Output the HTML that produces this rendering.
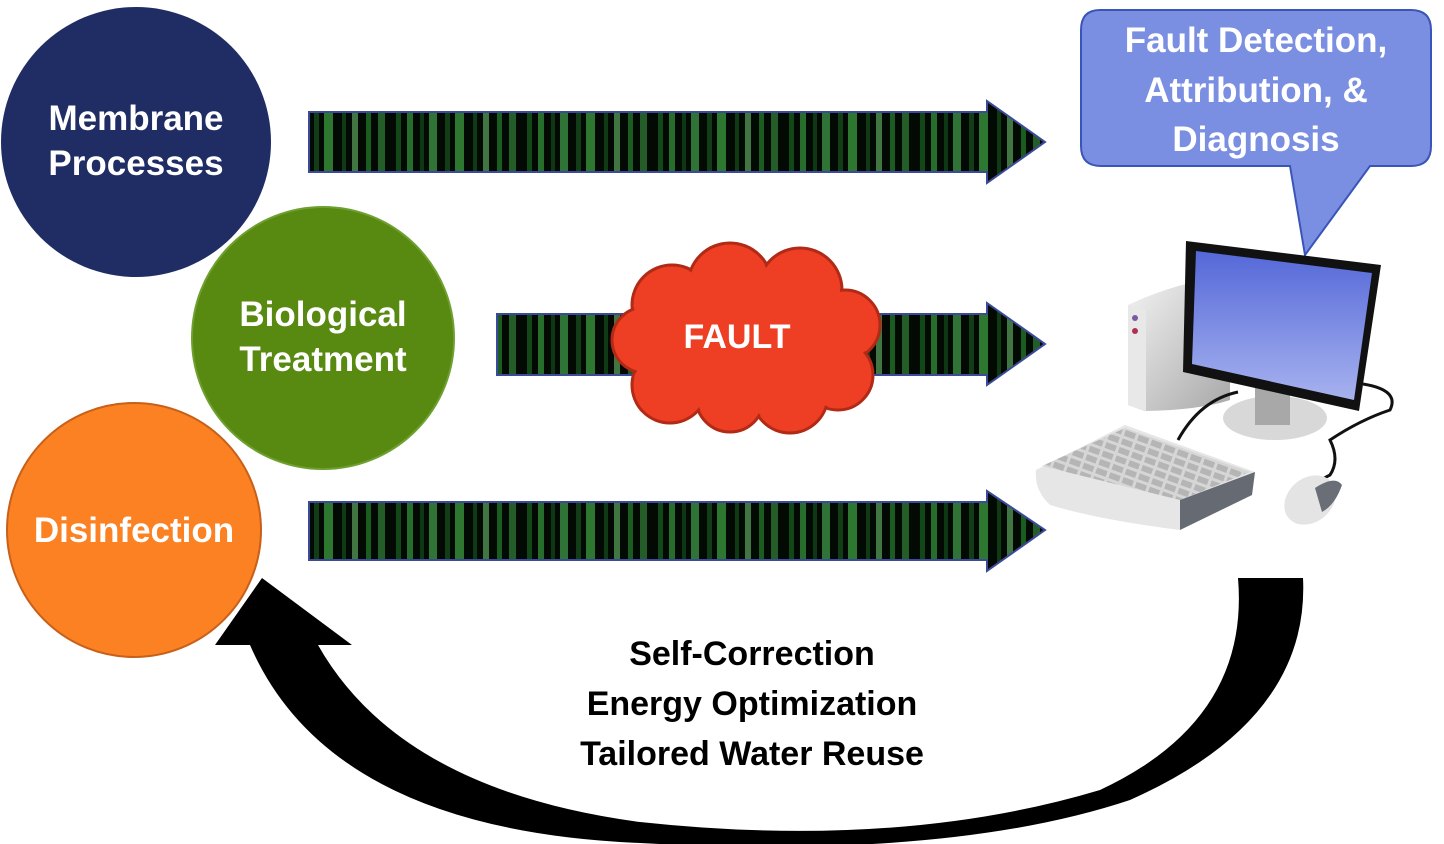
<!DOCTYPE html>
<html><head><meta charset="utf-8"><style>
html,body{margin:0;padding:0;background:#fff;}
svg{display:block;}
text{font-family:"Liberation Sans","DejaVu Sans",sans-serif;font-weight:bold;}
</style></head><body>
<svg width="1444" height="844" viewBox="0 0 1444 844" xmlns="http://www.w3.org/2000/svg">
<defs>
<pattern id="mx" width="131" height="70" patternUnits="userSpaceOnUse">
<rect width="131" height="70" fill="#030a03"/>
<rect x="3" y="0" width="5" height="70" fill="#1f7a2a" opacity=".55"/>
<rect x="14" y="0" width="6" height="70" fill="#3fb04a" opacity=".6"/>
<rect x="27" y="0" width="4" height="70" fill="#1f7a2a" opacity=".4"/>
<rect x="36" y="0" width="8" height="70" fill="#55c860" opacity=".55"/>
<rect x="52" y="0" width="5" height="70" fill="#2d9a38" opacity=".35"/>
<rect x="62" y="0" width="9" height="70" fill="#49c050" opacity=".6"/>
<rect x="80" y="0" width="4" height="70" fill="#1d6a25" opacity=".5"/>
<rect x="90" y="0" width="6" height="70" fill="#7fe080" opacity=".5"/>
<rect x="104" y="0" width="5" height="70" fill="#2f9e3a" opacity=".55"/>
<rect x="116" y="0" width="7" height="70" fill="#4cc455" opacity=".45"/>
</pattern>
<linearGradient id="scr" x1="0" y1="0" x2="0" y2="1"><stop offset="0" stop-color="#5468d8"/><stop offset="1" stop-color="#a7b2ef"/></linearGradient>
<linearGradient id="gry" x1="0" y1="0" x2="1" y2="1"><stop offset="0" stop-color="#f2f2f2"/><stop offset="1" stop-color="#a8a8a8"/></linearGradient>
<pattern id="keys" width="14" height="9" patternUnits="userSpaceOnUse" patternTransform="rotate(20)">
<rect width="14" height="9" fill="#d6d6d6"/><rect x="1" y="1" width="11" height="6" fill="#b5b5b5"/>
</pattern>
</defs>

<!-- arrows -->
<path d="M309,112 H987 V101 L1045,142 L987,183 V172 H309 Z" fill="url(#mx)" stroke="#3b4a9a" stroke-width="2"/>
<path d="M497,314 H987 V303 L1045,344 L987,385 V375 H497 Z" fill="url(#mx)" stroke="#3b4a9a" stroke-width="2"/>
<path d="M309,502 H987 V491 L1045,530 L987,571 V560 H309 Z" fill="url(#mx)" stroke="#3b4a9a" stroke-width="2"/>

<!-- cloud -->
<g fill="#ee3e23" stroke="#b02a16" stroke-width="3">
<circle cx="672" cy="305" r="40"/><circle cx="730" cy="285" r="42"/><circle cx="800" cy="290" r="42"/>
<circle cx="845" cy="325" r="35"/><circle cx="838" cy="375" r="35"/><circle cx="790" cy="395" r="38"/>
<circle cx="730" cy="398" r="34"/><circle cx="670" cy="385" r="38"/><circle cx="645" cy="340" r="33"/>
</g>
<g fill="#ee3e23">
<circle cx="672" cy="305" r="38"/><circle cx="730" cy="285" r="40"/><circle cx="800" cy="290" r="40"/>
<circle cx="845" cy="325" r="33"/><circle cx="838" cy="375" r="33"/><circle cx="790" cy="395" r="36"/>
<circle cx="730" cy="398" r="32"/><circle cx="670" cy="385" r="36"/><circle cx="645" cy="340" r="31"/>
<ellipse cx="745" cy="340" rx="110" ry="65"/>
</g>
<text x="737" y="348" font-size="34" fill="#fff" text-anchor="middle">FAULT</text>

<!-- circles -->
<circle cx="136" cy="142" r="135" fill="#1f2d64"/>
<text x="136" y="130" font-size="35" fill="#fff" text-anchor="middle">Membrane</text>
<text x="136" y="175" font-size="35" fill="#fff" text-anchor="middle">Processes</text>
<circle cx="323" cy="338" r="131" fill="#588a12" stroke="#6ea030" stroke-width="2"/>
<text x="323" y="326" font-size="35" fill="#fff" text-anchor="middle">Biological</text>
<text x="323" y="371" font-size="35" fill="#fff" text-anchor="middle">Treatment</text>
<circle cx="134" cy="530" r="127" fill="#fb8122" stroke="#c8601a" stroke-width="2"/>
<text x="134" y="542" font-size="35" fill="#fff" text-anchor="middle">Disinfection</text>

<!-- callout -->
<path d="M1100,10 H1411 Q1431,10 1431,30 V146 Q1431,166 1411,166 H1370 L1305,255 L1290,166 H1101 Q1081,166 1081,146 V30 Q1081,10 1100,10 Z" fill="#7b8fe2" stroke="#3a55b8" stroke-width="2"/>
<text x="1256" y="52" font-size="35" fill="#fff" text-anchor="middle">Fault Detection,</text>
<text x="1256" y="102" font-size="35" fill="#fff" text-anchor="middle">Attribution, &amp;</text>
<text x="1256" y="151" font-size="35" fill="#fff" text-anchor="middle">Diagnosis</text>

<!-- computer -->
<path d="M1128,305 Q1160,290 1190,283 L1230,290 V400 Q1200,410 1145,411 L1128,405 Z" fill="url(#gry)"/>
<path d="M1128,305 L1146,310 V411 L1128,405 Z" fill="#e8e8e8"/>
<circle cx="1135" cy="318" r="3" fill="#7a5aa0"/><circle cx="1135" cy="331" r="3" fill="#b03050"/>
<ellipse cx="1275" cy="418" rx="52" ry="22" fill="#d8d8d8"/>
<rect x="1255" y="385" width="35" height="40" fill="#a8a8a8"/>
<path d="M1186,241 L1381,265 L1359,411 L1183,372 Z" fill="#111"/>
<path d="M1196,251 L1372,273 L1354,400 L1192,364 Z" fill="url(#scr)"/>
<path d="M1363,384 Q1400,390 1390,410 Q1360,420 1330,440 Q1340,460 1330,475 Q1320,480 1320,482" fill="none" stroke="#111" stroke-width="3"/>
<path d="M1238,392 Q1200,400 1178,440" fill="none" stroke="#111" stroke-width="3"/>
<path d="M1036,470 L1125,425 L1255,472 L1252,495 L1180,530 Q1100,520 1050,505 Q1034,490 1036,470 Z" fill="#e6e6e6"/>
<path d="M1042,466 L1125,428 L1250,472 L1180,500 Z" fill="url(#keys)"/>
<path d="M1180,500 L1255,472 L1252,495 L1180,530 Z" fill="#666b73"/>
<ellipse cx="1310" cy="500" rx="28" ry="22" transform="rotate(-40 1310 500)" fill="#e4e4e4"/>
<path d="M1315,488 Q1335,475 1342,485 Q1335,505 1322,512 Z" fill="#6a6e76"/>

<!-- curved arrow -->
<path d="M1238,578 Q1250,720 1100,790 Q900,850 640,822 Q400,790 318,645 L352,645 L262,578 L215,645 L250,645 Q330,830 640,843 Q950,860 1130,800 Q1310,720 1303,578 Z" fill="#000"/>

<text x="752" y="665" font-size="34" fill="#000" text-anchor="middle">Self-Correction</text>
<text x="752" y="715" font-size="34" fill="#000" text-anchor="middle">Energy Optimization</text>
<text x="752" y="765" font-size="34" fill="#000" text-anchor="middle">Tailored Water Reuse</text>
</svg>
</body></html>
